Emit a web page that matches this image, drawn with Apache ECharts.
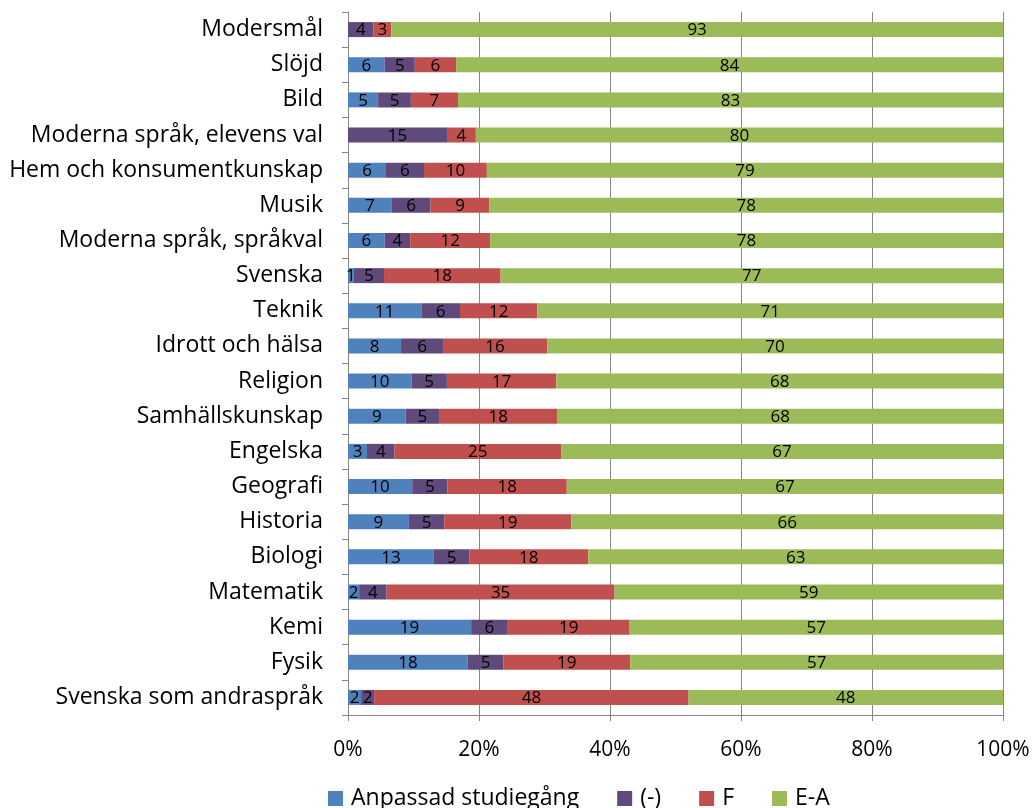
<!DOCTYPE html>
<html><head><meta charset="utf-8">
<script src="https://cdn.jsdelivr.net/npm/echarts@6/dist/echarts.min.js"></script>
<style>html,body{margin:0;padding:0;background:#fff}#c{width:1036px;height:808px}</style>
</head><body><div id="c"></div>
<script>
const categories = ["Modersmål","Slöjd","Bild","Moderna språk, elevens val","Hem och konsumentkunskap","Musik","Moderna språk, språkval","Svenska","Teknik","Idrott och hälsa","Religion","Samhällskunskap","Engelska","Geografi","Historia","Biologi","Matematik","Kemi","Fysik","Svenska som andraspråk"];
const anpassad = [0,5.6,4.6,0,5.8,6.7,5.6,0.9,11.2,8.1,9.7,8.8,2.9,9.8,9.3,13.1,1.7,18.8,18.3,2.0];
const streck   = [3.9,4.6,5.0,15.1,5.8,5.9,3.9,4.6,5.9,6.4,5.4,5.1,4.2,5.4,5.4,5.4,4.2,5.6,5.4,2.0];
const fValues  = [2.7,6.3,7.2,4.4,9.6,9.0,12.2,17.8,11.8,15.9,16.7,18.1,25.4,18.2,19.4,18.2,34.8,18.6,19.4,48.0];
const eaValues = [93.4,83.5,83.2,80.4,78.8,78.4,78.3,76.7,71.1,69.6,68.2,68.0,67.4,66.6,65.9,63.3,59.3,57.0,56.9,48.0];
const seriesNames = ["Anpassad studiegång","(-)","F","E-A"];
const colors = ["#4F81BD","#604A7B","#C0504D","#9BBB59"];
const tickLabels = ["0%","20%","40%","60%","80%","100%"];

const all = [anpassad, streck, fValues, eaValues];
const totals = categories.map((_, i) => all.reduce((s, a) => s + a[i], 0));
const FONT = "Open Sans";

const series = all.map((arr, k) => ({
  name: seriesNames[k],
  type: 'bar',
  stack: 'total',
  barWidth: 15,
  itemStyle: { color: colors[k] },
  label: {
    show: true, position: 'inside', color: '#000', fontFamily: FONT, fontSize: 17, offset: [0, 1],
    formatter: p => p.data.raw === 0 ? '' : String(Math.round(p.data.raw))
  },
  data: arr.map((v, i) => ({ value: v / totals[i] * 100, raw: v }))
}));

const chart = echarts.init(document.getElementById('c'));
chart.setOption({
  animation: false,
  textStyle: { fontFamily: FONT },
  grid: { left: 348, right: 33, top: 12, bottom: 93, containLabel: false },
  xAxis: {
    type: 'value', min: 0, max: 100, interval: 20,
    axisLine: { show: true, lineStyle: { color: '#868686' } },
    axisTick: { show: true, length: 6, lineStyle: { color: '#868686' } },
    splitLine: { show: true, lineStyle: { color: '#868686', width: 1 } },
    axisLabel: { margin: 25, color: '#000', fontSize: 21, fontFamily: FONT,
      formatter: v => tickLabels[Math.round(v / 20)] }
  },
  yAxis: {
    type: 'category', data: categories, inverse: true,
    axisLine: { show: true, lineStyle: { color: '#868686' } },
    axisTick: { show: true, length: 6, alignWithLabel: false, lineStyle: { color: '#868686' } },
    axisLabel: { margin: 25, color: '#000', fontSize: 23, fontFamily: FONT }
  },
  legend: {
    top: 782, left: 323, itemWidth: 15, itemHeight: 15, itemGap: 38,
    icon: 'rect',
    textStyle: { fontSize: 23, color: '#000', fontFamily: FONT, padding: [0, 0, 0, 3] },
    data: seriesNames
  },
  series
});
</script></body></html>
